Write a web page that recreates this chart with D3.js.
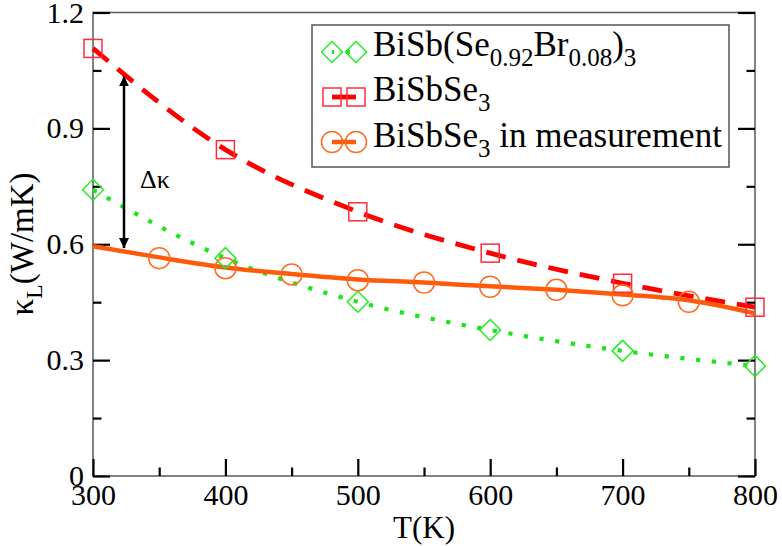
<!DOCTYPE html>
<html><head><meta charset="utf-8">
<script src="https://cdn.jsdelivr.net/npm/d3@7"></script>
<style>
body{margin:0;background:#fff;}
svg{display:block;}
svg text{font-family:"Liberation Serif","DejaVu Serif",serif;}
</style></head>
<body><svg id="c" width="782" height="546"></svg>
<script>
// ---- data ----
const temps = [300, 400, 500, 600, 700, 800];
const bisbse3 = [1.107, 0.845, 0.684, 0.577, 0.499, 0.437];
const doped = [0.741, 0.564, 0.451, 0.378, 0.324, 0.285];
const measTemps = [350, 400, 450, 500, 550, 600, 650, 700, 750];
const measVals = [0.564, 0.538, 0.522, 0.507, 0.501, 0.490, 0.482, 0.468, 0.451];
const measLineTemps = [300, 350, 400, 450, 500, 550, 600, 650, 700, 750, 800];
const measLineVals = [0.595, 0.566, 0.540, 0.523, 0.509, 0.501, 0.491, 0.482, 0.470, 0.455, 0.421];
const xMajor = [300, 400, 500, 600, 700, 800];
const xMinor = [350, 450, 550, 650, 750];
const yMajor = [0, 0.3, 0.6, 0.9, 1.2];
const yMinor = [0.15, 0.45, 0.75, 1.05];
const yTickLabels = ["0", "0.3", "0.6", "0.9", "1.2"];
const deltaK = [1.035, 0.59];

const svg = d3.select("#c");
const SERIF = '"Liberation Serif", "DejaVu Serif", serif';
const L = 93, R = 755, T = 12.5, B = 476;
const x = d3.scaleLinear().domain([300, 800]).range([L, R]);
const y = d3.scaleLinear().domain([0, 1.2]).range([B, T]);

const red = "#ff0000", redM = "#ff2a3a", green = "#19e619", greenM = "#22ee22", orange = "#ff5a0a", orangeM = "#ff6a1e";

svg.append("rect").attr("x", L).attr("y", T).attr("width", R - L).attr("height", B - T)
  .attr("fill", "none").attr("stroke", "#5f6462").attr("stroke-width", 1.6);

function styleAxis(g) {
  g.attr("font-family", null).attr("font-size", null);
  g.select(".domain").remove();
  g.selectAll("line").attr("stroke", "#000").attr("stroke-width", 2.2);
  g.selectAll("text").attr("fill", "#000").style("font-size", "30px").style("font-family", SERIF);
}
svg.append("g").attr("transform", `translate(0,${B})`)
  .call(d3.axisBottom(x).tickValues(xMajor).tickSizeInner(-17).tickPadding(8).tickFormat(d3.format("d")))
  .call(styleAxis);
svg.append("g").attr("transform", `translate(0,${B})`)
  .call(d3.axisBottom(x).tickValues(xMinor).tickSizeInner(-8.5).tickFormat(""))
  .call(styleAxis);
svg.append("g").attr("transform", `translate(${L},0)`)
  .call(d3.axisLeft(y).tickValues(yMajor).tickSizeInner(-17).tickPadding(9).tickFormat((d, i) => yTickLabels[i]))
  .call(styleAxis);
svg.append("g").attr("transform", `translate(${L},0)`)
  .call(d3.axisLeft(y).tickValues(yMinor).tickSizeInner(-8.5).tickFormat(""))
  .call(styleAxis);
svg.append("g").attr("transform", `translate(${R},0)`)
  .call(d3.axisRight(y).tickValues(yMajor).tickSizeInner(-17).tickFormat(""))
  .call(styleAxis);
svg.append("g").attr("transform", `translate(${R},0)`)
  .call(d3.axisRight(y).tickValues(yMinor).tickSizeInner(-8.5).tickFormat(""))
  .call(styleAxis);

svg.append("text").attr("x", (L + R) / 2).attr("y", 538).attr("text-anchor", "middle")
  .style("font-size", "31px").text("T(K)");
const yl = svg.append("text").attr("transform", "translate(33,244) rotate(-90)")
  .attr("text-anchor", "middle").style("font-size", "33px");
yl.append("tspan").text("κ");
yl.append("tspan").attr("dy", 9).style("font-size", "24px").text("L");
yl.append("tspan").attr("dy", -9).text("(W/mK)");

const line = d3.line().curve(d3.curveMonotoneX);
const plotG = svg.append("g");
plotG.append("path").attr("d", line(temps.map((t, i) => [x(t), y(doped[i])])))
  .attr("fill", "none").attr("stroke", green).attr("stroke-width", 4.2).attr("stroke-dasharray", "4.2,11.6");
plotG.append("path").attr("d", line(temps.map((t, i) => [x(t), y(bisbse3[i])])))
  .attr("fill", "none").attr("stroke", red).attr("stroke-width", 4.8).attr("stroke-dasharray", "20,12");
plotG.append("path").attr("d", line(measLineTemps.map((t, i) => [x(t), y(measLineVals[i])])))
  .attr("fill", "none").attr("stroke", orange).attr("stroke-width", 4.5);

const sq = 18, dia = 10.5, cr = 10.5;
function square(g, cx, cy) {
  g.append("rect").attr("x", cx - sq / 2).attr("y", cy - sq / 2).attr("width", sq).attr("height", sq)
   .attr("fill", "none").attr("stroke", redM).attr("stroke-width", 1.5);
}
function diamond(g, cx, cy) {
  g.append("path").attr("d", `M${cx},${cy - dia}L${cx + dia},${cy}L${cx},${cy + dia}L${cx - dia},${cy}Z`)
   .attr("fill", "none").attr("stroke", greenM).attr("stroke-width", 1.5);
}
function circle(g, cx, cy) {
  g.append("circle").attr("cx", cx).attr("cy", cy).attr("r", cr)
   .attr("fill", "none").attr("stroke", orangeM).attr("stroke-width", 1.5);
}
temps.forEach((t, i) => diamond(plotG, x(t), y(doped[i])));
temps.forEach((t, i) => square(plotG, x(t), y(bisbse3[i])));
measTemps.forEach((t, i) => circle(plotG, x(t), y(measVals[i])));

svg.append("defs").append("marker").attr("id", "ah").attr("viewBox", "0 0 10 10")
  .attr("refX", 10).attr("refY", 5).attr("markerWidth", 4).attr("markerHeight", 4)
  .attr("orient", "auto-start-reverse").attr("markerUnits", "strokeWidth")
  .append("path").attr("d", "M0,0L10,5L0,10Z").attr("fill", "#000");
svg.append("line").attr("x1", 124).attr("x2", 124).attr("y1", y(deltaK[0])).attr("y2", y(deltaK[1]))
  .attr("stroke", "#000").attr("stroke-width", 2.5)
  .attr("marker-start", "url(#ah)").attr("marker-end", "url(#ah)");
svg.append("text").attr("x", 140).attr("y", 188).style("font-size", "26px").text("Δκ");

const lg = svg.append("g");
lg.append("rect").attr("x", 312).attr("y", 25).attr("width", 417).attr("height", 142)
  .attr("fill", "#fff").attr("stroke", "#555").attr("stroke-width", 1.5);
const rows = [52, 97, 142];
const mx1 = 332, mx2 = 356, tx = 373;
lg.append("line").attr("x1", mx1).attr("x2", mx2).attr("y1", rows[0]).attr("y2", rows[0])
  .attr("stroke", green).attr("stroke-width", 4.2).attr("stroke-dasharray", "4.2,11.6").attr("stroke-dashoffset", 2.1);
diamond(lg, mx1, rows[0]); diamond(lg, mx2, rows[0]);
lg.append("line").attr("x1", mx1).attr("x2", mx2).attr("y1", rows[1]).attr("y2", rows[1])
  .attr("stroke", red).attr("stroke-width", 4.8);
square(lg, mx1, rows[1]); square(lg, mx2, rows[1]);
lg.append("line").attr("x1", mx1).attr("x2", mx2).attr("y1", rows[2]).attr("y2", rows[2])
  .attr("stroke", orange).attr("stroke-width", 4.5);
circle(lg, mx1, rows[2]); circle(lg, mx2, rows[2]);

const fs = "35px", sub = "25px", sh = 10;
const t1 = lg.append("text").attr("x", tx).attr("y", 56).style("font-size", fs);
t1.append("tspan").text("BiSb(Se");
t1.append("tspan").attr("dy", sh).style("font-size", sub).text("0.92");
t1.append("tspan").attr("dy", -sh).text("Br");
t1.append("tspan").attr("dy", sh).style("font-size", sub).text("0.08");
t1.append("tspan").attr("dy", -sh).text(")");
t1.append("tspan").attr("dy", sh).style("font-size", sub).text("3");
const t2 = lg.append("text").attr("x", tx).attr("y", 101).style("font-size", fs);
t2.append("tspan").text("BiSbSe");
t2.append("tspan").attr("dy", sh).style("font-size", sub).text("3");
const t3 = lg.append("text").attr("x", tx).attr("y", 147).style("font-size", fs);
t3.append("tspan").text("BiSbSe");
t3.append("tspan").attr("dy", sh).style("font-size", sub).text("3");
t3.append("tspan").attr("dy", -sh).text(" in measurement");
</script></body></html>
